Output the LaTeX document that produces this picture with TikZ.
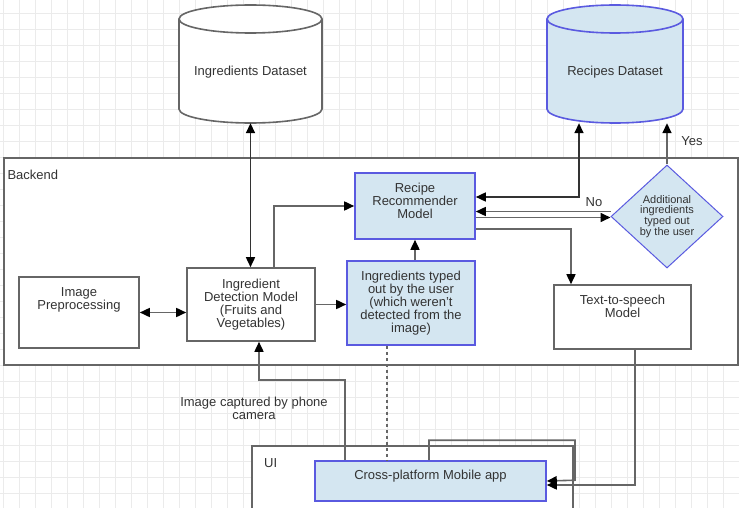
\documentclass[tikz,border=0pt]{standalone}
\usepackage{fontspec}
\setmainfont{Liberation Sans}
\usepackage{tikz}
\usetikzlibrary{arrows.meta,positioning,shapes.geometric}
\definecolor{gridgrey}{HTML}{EBEBEB}
\definecolor{linegrey}{HTML}{666666}
\definecolor{darkline}{HTML}{333333}
\definecolor{textgrey}{HTML}{333333}
\definecolor{boxblue}{HTML}{D4E6F1}
\definecolor{edgeblue}{HTML}{5A5AE0}

% database drum: centre, x radius, half height
\newcommand{\dbcyl}[4][]{%
  \draw[#1] (#2) ++(-#3,-#4+14) -- ++(0,2*#4-28)
    arc[start angle=180,end angle=360,x radius=#3pt,y radius=14pt]
    -- ++(0,-2*#4+28)
    arc[start angle=0,end angle=180,x radius=#3pt,y radius=14pt] -- cycle;
  \draw[#1,fill=none] (#2) ++(-#3,-#4+14)
    arc[start angle=180,end angle=360,x radius=#3pt,y radius=14pt];
}

\tikzset{
  >={Triangle[length=10pt,width=9pt,color=black]},
  box/.style={draw=linegrey, line width=1.6pt, fill=white, align=center, inner sep=2pt},
  bluebox/.style={box, draw=edgeblue, fill=boxblue},
  frame/.style={draw=linegrey, line width=1.6pt, fill=white},
  conn/.style={draw=linegrey, line width=1.6pt},
  dbline/.style={draw=darkline, line width=1.6pt},
  gridline/.style={draw=gridgrey, line width=1pt}
}

\begin{document}
\begin{tikzpicture}[x=1pt, y=-1pt, text=textgrey, font=\fontsize{13}{12.9}\selectfont]
    \useasboundingbox (0,0) rectangle (739,508);
    \clip (0,0) rectangle (739,508);

    % grid
    \foreach \gx in {3.3,19.3,...,739} \draw[gridline] (\gx,0) -- (\gx,508);
    \foreach \gy in {13.3,29.3,...,508} \draw[gridline] (0,\gy) -- (739,\gy);

    % datasets
    \dbcyl[frame]{250.5,64}{71.5}{59}
    \node[minimum width=143pt, minimum height=118pt, label={[yshift=-8pt]center:Ingredients Dataset}] (ingdb) at (250.5,64) {};
    \dbcyl[draw=edgeblue, fill=boxblue, line width=1.6pt]{615,64}{68}{59}
    \node[minimum width=136pt, minimum height=118pt, label={[yshift=-8pt]center:Recipes Dataset}] (recdb) at (615,64) {};

    % containers
    \node[frame, minimum width=734pt, minimum height=207pt, anchor=north west] (backend) at (3,157) {};
    \node[anchor=west] (backendlbl) at (4,175) {Backend};
    \node[frame, minimum width=321pt, minimum height=90pt, anchor=north west] (ui) at (251,445) {};
    \node (uilbl) at (270.7,463) {UI};

    % backend blocks
    \node[box, minimum width=120pt, minimum height=71pt, label={[yshift=13pt,align=center]center:Image\\Preprocessing}] (imgpre) at (79,312.5) {};
    \node[box, minimum width=128pt, minimum height=73pt] (det) at (251,304.5) {Ingredient\\Detection Model\\(Fruits and\\Vegetables)};
    \node[bluebox, minimum width=120pt, minimum height=66pt, label={[yshift=5pt,align=center]center:Recipe\\Recommender\\Model}] (recipe) at (415,206) {};
    \node[bluebox, minimum width=128pt, minimum height=84pt] (typed) at (411,303) {Ingredients typed\\out by the user\\(which weren't\\detected from the\\image)};
    \node[box, minimum width=137pt, minimum height=64pt, label={[yshift=10.5pt,align=center]center:Text-to-speech\\Model}] (tts) at (622.5,317) {};
    \node[diamond, draw=edgeblue, fill=boxblue, line width=1pt, minimum width=112pt, minimum height=103pt, inner sep=0pt, align=center, font=\fontsize{11}{10.8}\selectfont] (dia) at (667,216.5) {Additional\\ingredients\\typed out\\by the user};

    % app
    \node[bluebox, minimum width=231pt, minimum height=40pt, label={[yshift=5pt]center:Cross-platform Mobile app}] (app) at (430.5,481) {};

    % connectors
    \draw[<->, dbline] (ingdb.south) -- (ingdb.south |- det.north);
    \draw[<->, dbline] ([yshift=9pt]recipe.east) -| ([xshift=-36pt]recdb.south);
    \draw[<->, conn] (imgpre.east) -- (imgpre.east -| det.west);
    \draw[->, conn] ([xshift=23pt]det.north) |- (recipe.west);
    \draw[->, conn] (det.east) -- (det.east -| typed.west);
    \draw[->, conn] (recipe.south |- typed.north) -- (recipe.south);
    \draw[->, conn] (dia.north) -- (dia.north |- recdb.south);
    \node (yes) at (692,141) {Yes};
    \draw[->, conn] ([yshift=5pt]dia.west) -- ([yshift=5pt]dia.west -| recipe.east);
    \node (no) at (594,202) {No};
    \draw[->, conn] ([yshift=-1pt]recipe.east |- dia.west) -- ([yshift=-1pt]dia.west);
    \draw[->, conn] ([yshift=-23pt]recipe.east) -| ([xshift=-51.5pt]tts.north);
    \draw[->, conn] ([xshift=12.5pt]tts.south) |- ([yshift=-4pt]app.east);
    \draw[->, conn] ([xshift=-1.5pt]app.north) -- ++(0,-20) -- ++(146,0) -- ++(0,40) -- (app.east);
    \draw[->, conn] ([xshift=-85.5pt]app.north) -- ++(0,-80) -| ([xshift=8pt]det.south);
    \node[align=center] (camlbl) at (254,408.5) {Image captured by phone\\camera};
    \draw[conn, dash pattern=on 3pt off 3pt] ([xshift=-24pt]typed.south) -- ([xshift=-24pt]typed.south |- app.north);
\end{tikzpicture}
\end{document}
